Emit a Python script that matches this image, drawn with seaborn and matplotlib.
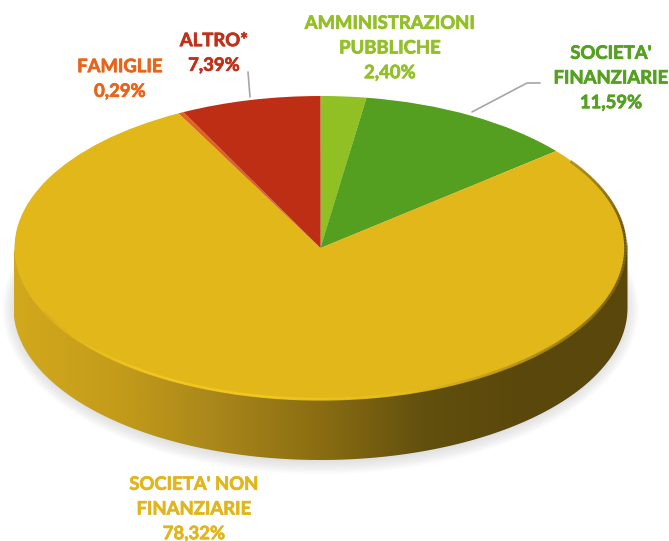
import numpy as np
import matplotlib
matplotlib.use("Agg")
import matplotlib.pyplot as plt
import matplotlib.patheffects as pe
from matplotlib.collections import LineCollection
from matplotlib.patches import Polygon
import seaborn as sns

# quote percentuali, in senso orario dalle ore 12
categories = ["AMMINISTRAZIONI\nPUBBLICHE", "SOCIETA'\nFINANZIARIE", "SOCIETA' NON\nFINANZIARIE", "FAMIGLIE", "ALTRO*"]
values = [2.40, 11.59, 78.32, 0.29, 7.39]
value_labels = ["2,40%", "11,59%", "78,32%", "0,29%", "7,39%"]
wedge_colors = ["#90c024", "#549f20", "#e2b71a", "#e0641c", "#be2e14"]
text_colors = ["#92c026", "#55a020", "#e2b61b", "#e8641b", "#c0311a"]
label_pos = [(390, 48), (611, 78), (194, 509), (120, 79), (214, 53)]

W, H = 669, 541
cx, cy, rx, ry = 320.5, 248, 306, 152
depth = 60

sns.set_theme(style="white")
plt.rcParams["font.family"] = ["Lato", "DejaVu Sans"]

fig = plt.figure(figsize=(W / 100, H / 100), dpi=100)

# fondo in coordinate pixel: ombra e fianco del disco
ax = fig.add_axes([0, 0, 1, 1])
ax.set_xlim(0, W)
ax.set_ylim(H, 0)
ax.axis("off")

t = np.linspace(0, 2 * np.pi, 400)
for k in range(10):
    sx = cx + (rx + 12 - k * 1.6) * np.cos(t)
    sy = cy + depth + 1 + (ry + 13 - k * 1.6) * np.sin(t)
    ax.fill(sx, sy, color="#9a9a9a", alpha=0.035, lw=0)

# il bordo alto del fianco sta sotto la faccia, cosi non resta una fessura chiara
t_low = np.linspace(0, np.pi, 200)
side_x = np.r_[cx + (rx + 1) * np.cos(t_low), cx + (rx + 1) * np.cos(t_low[::-1])]
side_y = np.r_[cy + depth + ry * np.sin(t_low), cy - 10 + ry * np.sin(t_low[::-1])]
side_cmap = sns.blend_palette(["#d2a81c", "#c49c1a", "#a8861a", "#8a6d12", "#62500e", "#5a470b", "#5a470b"], as_cmap=True)
img = ax.imshow(np.linspace(0, 1, 256)[None, :], cmap=side_cmap, aspect="auto",
                extent=(cx - rx - 1, cx + rx + 1, H, 0), zorder=2)
clip = Polygon(np.c_[side_x, side_y], transform=ax.transData, fc="none", ec="none")
ax.add_patch(clip)
img.set_clip_path(clip)
ax.set_xlim(0, W)
ax.set_ylim(H, 0)

# faccia superiore: torta schiacciata con un asse non isometrico
pie_ax = fig.add_axes([(cx - rx) / W, 1 - (cy + ry) / H, 2 * rx / W, 2 * ry / H])
pie_ax.patch.set_alpha(0)
pie_ax.pie(values, colors=wedge_colors, startangle=90, counterclock=False, radius=1,
           wedgeprops={"linewidth": 0, "antialiased": True})
pie_ax.set_aspect("auto")
pie_ax.set_xlim(-1, 1)
pie_ax.set_ylim(-1, 1)
pie_ax.axis("off")

# smusso sul bordo: chiaro davanti a sinistra, scuro a destra
angles = np.radians(np.linspace(205, 395, 340))
ex, ey = 0.997 * np.cos(angles), 0.995 * np.sin(angles)
pts = np.c_[ex, ey].reshape(-1, 1, 2)
segs = np.concatenate([pts[:-1], pts[1:]], axis=1)
rim = sns.blend_palette(["#d8ad1a", "#f2c820", "#f4ca22", "#e8bd1c", "#a98a16", "#6c5610", "#5a470b", "#a88a16"], n_colors=len(segs))
pie_ax.add_collection(LineCollection(segs, colors=rim, linewidths=2.0, alpha=0.9, clip_on=False))

# etichette in coordinate pixel
top = fig.add_axes([0, 0, 1, 1])
top.set_xlim(0, W)
top.set_ylim(H, 0)
top.axis("off")
for name, val, col, (lx, ly) in zip(categories, value_labels, text_colors, label_pos):
    txt = top.text(lx, ly, name + "\n" + val, color=col, ha="center", va="center", fontsize=13.3,
                   fontweight="bold", linespacing=1.55, clip_on=False)
    txt.set_path_effects([pe.withStroke(linewidth=0.5, foreground=col)])

top.plot([248, 250], [72, 97], color="#a6a6a6", lw=1.2)
top.plot([472, 527, 540], [112, 83, 83], color="#a6a6a6", lw=1.2)

fig.savefig("out.png", dpi=100)
